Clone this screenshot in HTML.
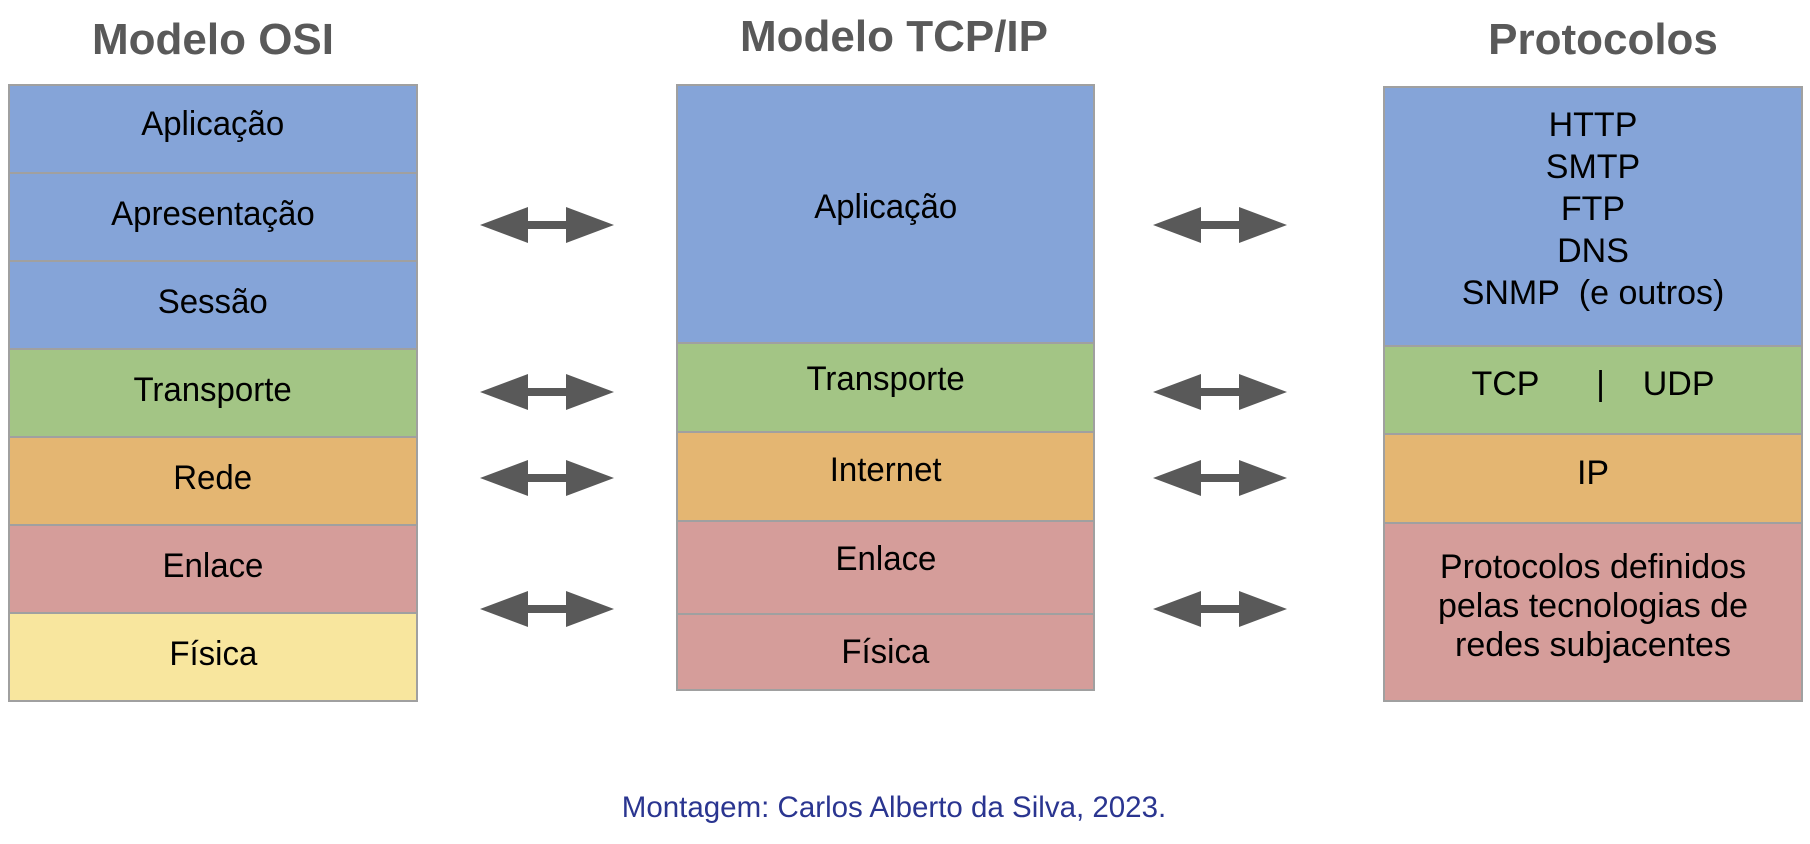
<!DOCTYPE html>
<html><head><meta charset="utf-8"><style>
body{margin:0;width:1810px;height:844px;background:#fff;position:relative;overflow:hidden;font-family:"Liberation Sans",sans-serif}
.t{position:absolute;font-weight:bold;color:#595959;font-size:44px;text-align:center;line-height:50px}
.b{position:absolute;box-sizing:border-box;border:2px solid #a0a0a0;display:flex;align-items:center;justify-content:center;text-align:center;color:#000}
.n span{display:inline-block;transform:scaleX(0.97);font-size:34px}
.blue{background:#85a4d8}.green{background:#a3c585}.orange{background:#e4b672}.red{background:#d59d9a}.yel{background:#f8e69e}
.p{font-size:34px;line-height:42px}
svg{position:absolute}
</style></head><body>
<div class="t" style="left:13px;width:400px;top:15px">Modelo OSI</div>
<div class="t" style="left:694px;width:400px;top:12px">Modelo TCP/IP</div>
<div class="t" style="left:1403px;width:400px;top:15px">Protocolos</div>

<div class="b blue n" style="left:8px;top:84px;width:410px;height:90px;padding-bottom:10px"><span>Aplicação</span></div>
<div class="b blue n" style="left:8px;top:172px;width:410px;height:90px;padding-bottom:6px"><span>Apresentação</span></div>
<div class="b blue n" style="left:8px;top:260px;width:410px;height:90px;padding-bottom:6px"><span>Sessão</span></div>
<div class="b green n" style="left:8px;top:348px;width:410px;height:90px;padding-bottom:6px"><span>Transporte</span></div>
<div class="b orange n" style="left:8px;top:436px;width:410px;height:90px;padding-bottom:6px"><span>Rede</span></div>
<div class="b red n" style="left:8px;top:524px;width:410px;height:90px;padding-bottom:6px"><span>Enlace</span></div>
<div class="b yel n" style="left:8px;top:612px;width:410px;height:90px;padding-bottom:6px"><span>Física</span></div>

<div class="b blue n" style="left:676px;top:84px;width:419px;height:260px;padding-bottom:14px"><span>Aplicação</span></div>
<div class="b green n" style="left:676px;top:342px;width:419px;height:91px;padding-bottom:16px"><span>Transporte</span></div>
<div class="b orange n" style="left:676px;top:431px;width:419px;height:91px;padding-bottom:12px"><span>Internet</span></div>
<div class="b red n" style="left:676px;top:520px;width:419px;height:95px;padding-bottom:16px"><span>Enlace</span></div>
<div class="b red n" style="left:676px;top:613px;width:419px;height:78px"><span>Física</span></div>

<div class="b blue p" style="left:1383px;top:86px;width:420px;height:261px;padding-bottom:16px;line-height:42px">HTTP<br>SMTP<br>FTP<br>DNS<br>SNMP&nbsp; (e outros)</div>
<div class="b green p" style="left:1383px;top:345px;width:420px;height:90px;padding-bottom:12px">TCP&nbsp;&nbsp;&nbsp;&nbsp;&nbsp;&nbsp;|&nbsp;&nbsp;&nbsp;&nbsp;UDP</div>
<div class="b orange p" style="left:1383px;top:433px;width:420px;height:91px;padding-bottom:12px">IP</div>
<div class="b red p" style="left:1383px;top:522px;width:420px;height:180px;padding-bottom:12px;line-height:39px">Protocolos definidos<br>pelas tecnologias de<br>redes subjacentes</div>

<svg width="1810" height="844" style="left:0;top:0">
<defs><g id="a"><polygon points="0,0 48,-18 48,-4 86,-4 86,-18 134,0 86,18 86,4 48,4 48,18" fill="#595959"/></g></defs>
<use href="#a" x="480" y="225"/><use href="#a" x="480" y="392"/><use href="#a" x="480" y="478"/><use href="#a" x="480" y="609"/>
<use href="#a" x="1153" y="225"/><use href="#a" x="1153" y="392"/><use href="#a" x="1153" y="478"/><use href="#a" x="1153" y="609"/>
</svg>

<div style="position:absolute;left:394px;width:1000px;top:791px;text-align:center;color:#2a3590;font-size:29.5px;line-height:34px">Montagem: Carlos Alberto da Silva, 2023.</div>
</body></html>
